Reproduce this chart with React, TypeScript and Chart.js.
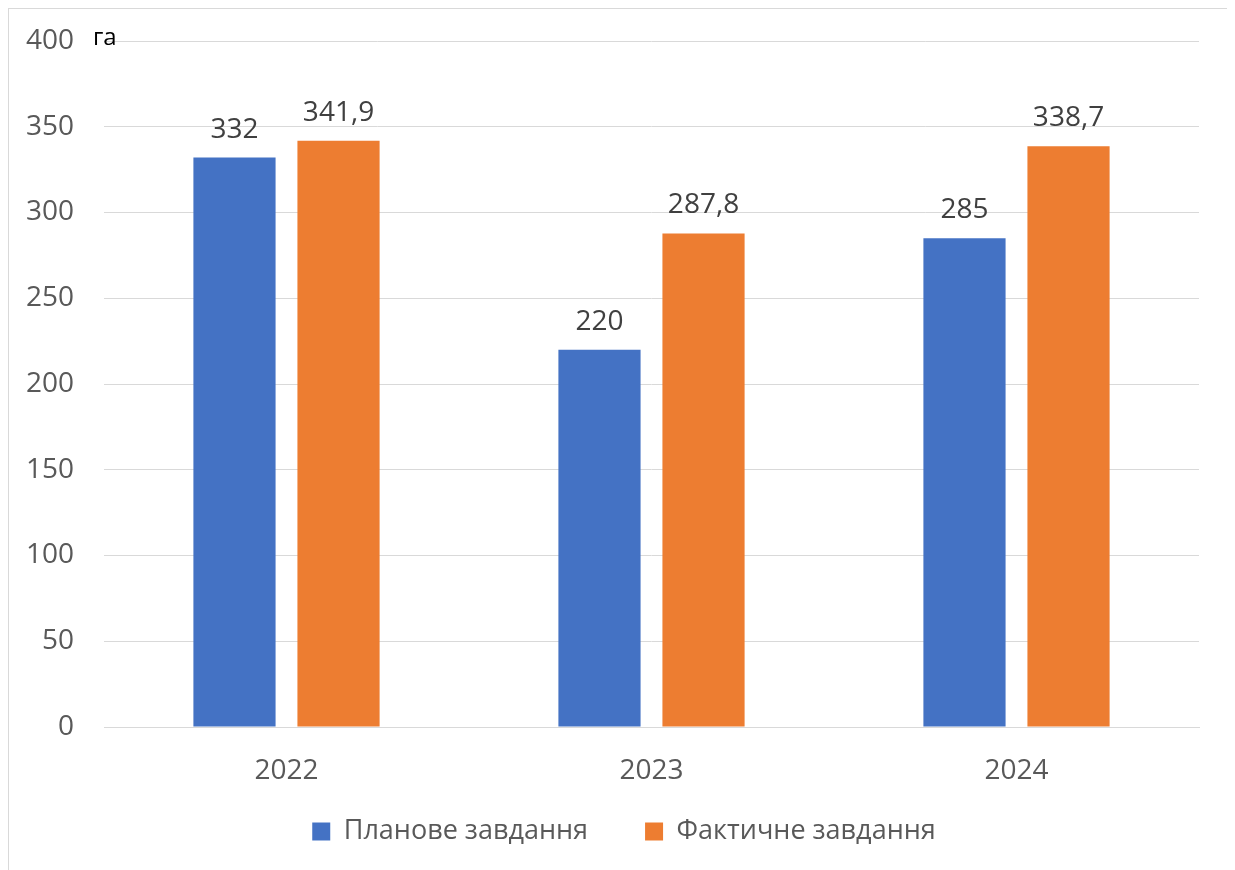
import React, { useEffect, useRef } from "react";
import { Chart, registerables } from "chart.js";

Chart.register(...registerables);

const categories = ["2022", "2023", "2024"];
const planned = [332, 220, 285];
const actual = [341.9, 287.8, 338.7];
const seriesNames = ["Планове завдання", "Фактичне завдання"];
const yTicks = [0, 50, 100, 150, 200, 250, 300, 350, 400];
const unitLabel = "га";

const FONT = "'Open Sans', 'Noto Sans', sans-serif";

const fmt = (v: number) => String(v).replace(".", ",");

const labelPlugin = {
  id: "valueLabels",
  afterLayout(chart: any) {
    if (chart.legend) {
      chart.legend.left += 20;
      chart.legend.right += 20;
    }
  },
  afterDatasetsDraw(chart: any) {
    const ctx = chart.ctx;
    ctx.save();
    ctx.font = `28px ${FONT}`;
    ctx.fillStyle = "#404040";
    ctx.textAlign = "center";
    ctx.textBaseline = "alphabetic";
    chart.data.datasets.forEach((ds: any, i: number) => {
      const meta = chart.getDatasetMeta(i);
      meta.data.forEach((bar: any, j: number) => {
        ctx.fillText(fmt(ds.data[j]), bar.x, bar.y - 20);
      });
    });
    const yScale = chart.scales.y;
    ctx.font = `24px ${FONT}`;
    ctx.fillStyle = "#000000";
    ctx.textAlign = "left";
    ctx.textBaseline = "alphabetic";
    ctx.fillText(unitLabel, chart.chartArea.left - 11, yScale.getPixelForValue(400) + 4);
    ctx.restore();
  },
};

export default function App() {
  const ref = useRef<HTMLCanvasElement | null>(null);
  useEffect(() => {
    if (!ref.current) return;
    const chart = new Chart(ref.current, {
      type: "bar",
      data: {
        labels: categories,
        datasets: [
          { label: seriesNames[0], data: planned, backgroundColor: "#4472C4" },
          { label: seriesNames[1], data: actual, backgroundColor: "#ED7D31" },
        ],
      },
      options: {
        animation: false,
        responsive: false,
        maintainAspectRatio: false,
        layout: { padding: { top: 32, right: 29, left: 0, bottom: 15 } },
        datasets: { bar: { categoryPercentage: 0.57, barPercentage: 0.79 } },
        plugins: {
          legend: {
            position: "bottom",
            labels: {
              boxWidth: 18,
              boxHeight: 18,
              color: "#595959",
              font: { family: FONT, size: 27 },
              padding: 30,
              generateLabels: (chart: any) => {
                const items = Chart.defaults.plugins.legend.labels.generateLabels(chart);
                items.forEach((it: any, i: number) => {
                  if (i < items.length - 1) it.text = it.text + "\u2003";
                });
                return items;
              },
            },
          },
          tooltip: { enabled: false },
        },
        scales: {
          x: {
            afterFit: (s: any) => { s.height = 61; },
            grid: { display: false, drawTicks: false },
            border: { display: true, color: "#d9d9d9" },
            ticks: { color: "#595959", font: { family: FONT, size: 28 }, padding: 27 },
          },
          y: {
            min: 0,
            max: 400,
            afterFit: (s: any) => {
              s.width = 95;
              s.paddingTop = 0;
              s.paddingBottom = 0;
            },
            afterBuildTicks: (s: any) => { s.ticks = yTicks.map((v) => ({ value: v })); },
            grid: { color: "#d9d9d9", drawTicks: false },
            border: { display: false },
            ticks: { color: "#595959", font: { family: FONT, size: 28 }, padding: 30 },
          },
        },
      },
      plugins: [labelPlugin],
    });
    return () => chart.destroy();
  }, []);
  return (
    <div style={{ width: 1219, height: 880, border: "1px solid #d9d9d9", boxSizing: "content-box" }}>
      <canvas ref={ref} width={1219} height={861} style={{ display: "block" }} />
    </div>
  );
}
